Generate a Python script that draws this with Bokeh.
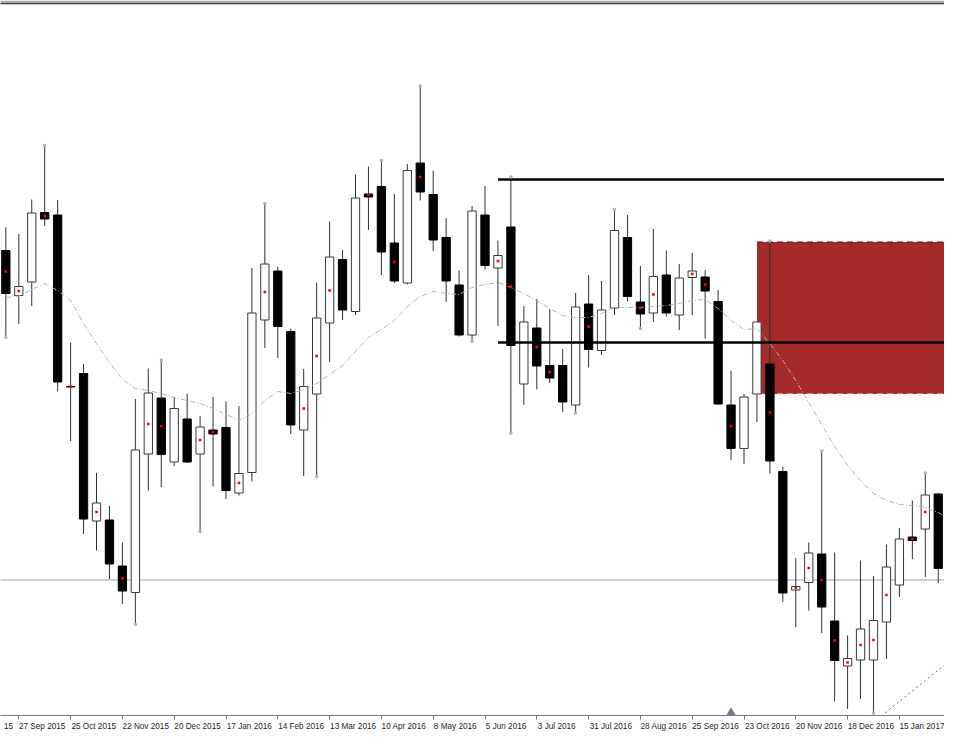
from bokeh.plotting import figure
from bokeh.models import FixedTicker, Range1d, ColumnDataSource
from bokeh.embed import file_html
from bokeh.resources import INLINE

# ---- data (EUR/USD weekly) ----
WEEK = list(range(-1, 74))  # week index, 0 = 27 Sep 2015
OPEN = [1.1287, 1.1197, 1.1224, 1.1363, 1.1358, 1.1015, 1.1041, 1.0746, 1.0748, 1.0656,
        1.0603, 1.0880, 1.0992, 1.0864, 1.0950, 1.0880, 1.0928, 1.0933, 1.0802, 1.0843,
        1.1148, 1.1246, 1.1125, 1.0928, 1.1000, 1.1142, 1.1269, 1.1165, 1.1400, 1.1415,
        1.1302, 1.1222, 1.1462, 1.1399, 1.1313, 1.1218, 1.1118, 1.1358, 1.1252, 1.1334,
        1.1020, 1.1132, 1.1057, 1.1057, 1.0978, 1.1180, 1.1087, 1.1172, 1.1313, 1.1184,
        1.1162, 1.1238, 1.1158, 1.1233, 1.1234, 1.1185, 1.0978, 1.0891, 1.1000, 1.1060,
        1.0845, 1.0608, 1.0623, 1.0680, 1.0546, 1.0456, 1.0468, 1.0468, 1.0544, 1.0618,
        1.0714, 1.0730, 1.0800, 1.0641, 1.0617]
HIGH = [1.1333, 1.1320, 1.1389, 1.1497, 1.1388, 1.1103, 1.1060, 1.0842, 1.0776, 1.0703,
        1.0990, 1.1051, 1.1068, 1.0994, 1.1000, 1.0956, 1.0994, 1.0985, 1.0976, 1.1252,
        1.1381, 1.1254, 1.1131, 1.1050, 1.1223, 1.1345, 1.1288, 1.1439, 1.1455, 1.1467,
        1.1400, 1.1460, 1.1616, 1.1447, 1.1352, 1.1247, 1.1376, 1.1416, 1.1307, 1.1434,
        1.1176, 1.1190, 1.1170, 1.1090, 1.1202, 1.1238, 1.1226, 1.1369, 1.1358, 1.1256,
        1.1330, 1.1287, 1.1260, 1.1282, 1.1248, 1.1208, 1.1047, 1.1000, 1.1144, 1.1306,
        1.0854, 1.0672, 1.0703, 1.0886, 1.0683, 1.0517, 1.0667, 1.0636, 1.0699, 1.0732,
        1.0787, 1.0842, 1.0802, 1.0692, 1.0637]
LOW = [1.1113, 1.1140, 1.1176, 1.1336, 1.1005, 1.0906, 1.0720, 1.0687, 1.0630, 1.0580,
       1.0539, 1.0807, 1.0814, 1.0856, 1.0862, 1.0725, 1.0815, 1.0790, 1.0797, 1.0825,
       1.1092, 1.1072, 1.0920, 1.0836, 1.0835, 1.1064, 1.1148, 1.1158, 1.1328, 1.1238,
       1.1222, 1.1219, 1.1387, 1.1286, 1.1184, 1.1115, 1.1105, 1.1249, 1.1136, 1.0922,
       1.0978, 1.1009, 1.1022, 1.0964, 1.0962, 1.1053, 1.1078, 1.1158, 1.1185, 1.1131,
       1.1144, 1.1155, 1.1128, 1.1158, 1.1111, 1.0978, 1.0868, 1.0860, 1.0944, 1.0841,
       1.0584, 1.0534, 1.0567, 1.0522, 1.0385, 1.0370, 1.0390, 1.0362, 1.0470, 1.0594,
       1.0670, 1.0634, 1.0622, 1.0537, 1.0547]
CLOSE = [1.1201, 1.1215, 1.1362, 1.1350, 1.1024, 1.1014, 1.0750, 1.0782, 1.0660, 1.0606,
         1.0888, 1.1002, 1.0879, 1.0971, 1.0864, 1.0934, 1.0920, 1.0807, 1.0841, 1.1162,
         1.1260, 1.1135, 1.0938, 1.1015, 1.1152, 1.1274, 1.1168, 1.1392, 1.1394, 1.1284,
         1.1226, 1.1447, 1.1404, 1.1308, 1.1226, 1.1118, 1.1366, 1.1257, 1.1277, 1.1097,
         1.1144, 1.1056, 1.1032, 1.0984, 1.1174, 1.1089, 1.1168, 1.1327, 1.1195, 1.1160,
         1.1235, 1.1162, 1.1232, 1.1246, 1.1206, 1.0980, 1.0891, 1.0994, 1.1144, 1.0866,
         1.0602, 1.0615, 1.0682, 1.0574, 1.0467, 1.0471, 1.0530, 1.0547, 1.0654, 1.0710,
         1.0707, 1.0798, 1.0651, 1.0623, 1.0573]
MA = [1.1193, 1.1196, 1.1209, 1.1221, 1.1207, 1.1187, 1.1141, 1.1101, 1.1063, 1.1029,
      1.1011, 1.1007, 1.1001, 1.0993, 1.0987, 1.0981, 1.0971, 1.0959, 1.0947, 1.0961,
      1.0987, 1.1005, 1.1001, 1.1009, 1.1021, 1.1039, 1.1057, 1.1085, 1.1113, 1.1129,
      1.1147, 1.1175, 1.1195, 1.1205, 1.1201, 1.1199, 1.1213, 1.1219, 1.1223, 1.1213,
      1.1201, 1.1187, 1.1171, 1.1157, 1.1153, 1.1153, 1.1161, 1.1173, 1.1173, 1.1173,
      1.1175, 1.1177, 1.1181, 1.1187, 1.1189, 1.1171, 1.1147, 1.1129, 1.1131, 1.1101,
      1.1067, 1.1027, 1.0983, 1.0939, 1.0895, 1.0857, 1.0827, 1.0801, 1.0787, 1.0779,
      1.0777, 1.0773, 1.0763, 1.0747, 1.0733]

DOT_IDX = [-1, 0, 2, 4, 6, 8, 10, 11, 14, 15, 17, 19, 22, 23, 24, 27, 29, 31, 37, 38,
           40, 41, 44, 48, 49, 52, 53, 55, 58, 60, 61, 62, 63, 64, 65, 66, 67, 69, 70, 72]
DOT_VAL = [1.1245, 1.1206, 1.1356, 1.1015, 1.0764, 1.0631, 1.0940, 1.0936, 1.0908, 1.0924,
           1.0822, 1.1204, 1.0971, 1.1076, 1.1207, 1.1398, 1.1264, 1.1434, 1.1266, 1.1215,
           1.1094, 1.1044, 1.1135, 1.1172, 1.1199, 1.1240, 1.1219, 1.0936, 1.0963, 1.0612,
           1.0652, 1.0628, 1.0507, 1.0463, 1.0498, 1.0508, 1.0598, 1.0710, 1.0764, 1.0632]

FRACTAL_UP_IDX = [2, 11, 19, 28, 31, 38, 46, 58, 62, 70]
FRACTAL_DN_IDX = [-1, 9, 14, 23, 35, 38, 43, 48, 66]

LEVELS = [1.1429, 1.1103]
LEVEL_START = 37
ZONE_START = 57
ZONE_TOP = 1.1304
ZONE_BOTTOM = 1.1000
SUPPORT = 1.0628
TREND_X = [66.9, 72.9]
TREND_Y = [1.0362, 1.0488]
SHIFT_MARK = 55

TICK_IDX = [-4, 0, 4, 8, 12, 16, 20, 24, 28, 32, 36, 40, 44, 48, 52, 56, 60, 64, 68, 72]
TICK_LABELS = ["30 Aug 2015", "27 Sep 2015", "25 Oct 2015", "22 Nov 2015", "20 Dec 2015",
               "17 Jan 2016", "14 Feb 2016", "13 Mar 2016", "10 Apr 2016", "8 May 2016",
               "5 Jun 2016", "3 Jul 2016", "31 Jul 2016", "28 Aug 2016", "25 Sep 2016",
               "23 Oct 2016", "20 Nov 2016", "18 Dec 2016", "15 Jan 2017", "12 Feb 2017"]

# ---- layout: 12.95 px per week, 0.0002 per px (same scale as the source chart) ----
FRAME_W, FRAME_H = 944, 715
PX_PER_WEEK = 12.95
PRICE_PER_PX = 0.0002
X0 = -18.3 / PX_PER_WEEK
X1 = X0 + FRAME_W / PX_PER_WEEK
Y1 = 1.1787
Y0 = Y1 - FRAME_H * PRICE_PER_PX

p = figure(frame_width=FRAME_W, frame_height=FRAME_H,
           x_range=Range1d(X0, X1), y_range=Range1d(Y0, Y1),
           output_backend="svg", toolbar_location=None, y_axis_location=None,
           min_border_left=0, min_border_right=0, min_border_top=0, min_border_bottom=0)
p.outline_line_color = None
p.xgrid.visible = False
p.ygrid.visible = False
p.background_fill_color = "white"
p.border_fill_color = "white"

# window top bar
p.quad(left=[X0 - 5], right=[X1 + 5], top=[Y1], bottom=[Y1 - 2 * PRICE_PER_PX],
       fill_color="#a7a7a7", line_color=None)
p.segment(x0=[X0 - 5], x1=[X1 + 5], y0=[Y1 - 3 * PRICE_PER_PX], y1=[Y1 - 3 * PRICE_PER_PX],
          line_color="#3a3a3a", line_width=1.5)

# zone (behind candles)
p.quad(left=[ZONE_START], right=[X1 + 10], top=[ZONE_TOP], bottom=[ZONE_BOTTOM],
       fill_color="#A52A2A", line_color=None)
p.segment(x0=[ZONE_START], x1=[X1 + 10], y0=[ZONE_TOP], y1=[ZONE_TOP],
          line_color="#202020", line_width=1, line_dash="6 4")
p.segment(x0=[ZONE_START], x1=[X1 + 10], y0=[ZONE_BOTTOM], y1=[ZONE_BOTTOM],
          line_color="#f4dcdc", line_width=1, line_dash="6 4")

# support line
p.segment(x0=[X0 - 5], x1=[X1 + 5], y0=[SUPPORT], y1=[SUPPORT], line_color="#98a2ac", line_width=1)

# candles
up = [c >= o for o, c in zip(OPEN, CLOSE)]
src = ColumnDataSource(dict(
    x=WEEK, high=HIGH, low=LOW,
    top=[max(o, c) for o, c in zip(OPEN, CLOSE)],
    bottom=[min(o, c) for o, c in zip(OPEN, CLOSE)],
    fill=["white" if u else "black" for u in up],
    line=["#383838" if u else "black" for u in up],
))
p.segment(x0="x", x1="x", y0="high", y1="low", source=src, line_color="#303030", line_width=1)
p.vbar(x="x", width=0.64, top="top", bottom="bottom", source=src,
       fill_color="fill", line_color="line", line_width=1)

# moving average
p.line(WEEK, MA, line_color="#b4b4b4", line_width=1, line_dash="5 2 1 2")

# horizontal levels
for lv in LEVELS:
    p.segment(x0=[LEVEL_START], x1=[X1 + 10], y0=[lv], y1=[lv], line_color="black", line_width=2.5)

# red midpoint dots
p.scatter(DOT_IDX, DOT_VAL, marker="square", size=2.6, fill_color="#ff0000", line_color=None)

# fractal marks
pos = {k: i for i, k in enumerate(WEEK)}
p.scatter(FRACTAL_UP_IDX, [HIGH[pos[k]] for k in FRACTAL_UP_IDX], marker="circle", size=3.5,
          fill_color="#b9b2aa", line_color=None)
p.scatter(FRACTAL_DN_IDX, [LOW[pos[k]] for k in FRACTAL_DN_IDX], marker="circle", size=3.5,
          fill_color="#b9b2aa", line_color=None)

# trend line
p.line(TREND_X, TREND_Y, line_color="#2f9a2f", line_width=1, line_dash="2 3")

# chart shift marker (sits on the axis line)
p.scatter([SHIFT_MARK], [Y0 + 3 * PRICE_PER_PX], marker="triangle", size=9,
          fill_color="#6f7c8a", line_color=None)

# x axis: labels start at their tick (major ticks = label centres, minor = tick marks)
FONT_PX = 8.2
def label_width(s):
    w = 0.0
    for ch in s:
        if ch == " ":
            w += 0.278
        elif ch.isdigit():
            w += 0.556
        elif ch in "MO":
            w += 0.8
        elif ch in "lt":
            w += 0.28
        elif ch == "r":
            w += 0.35
        else:
            w += 0.56
    return w * FONT_PX

centres, shown = [], []
for t, s in zip(TICK_IDX, TICK_LABELS):
    start = t + 0.5 / PX_PER_WEEK
    c = start + label_width(s) / 2 / PX_PER_WEEK
    if X0 <= c <= X1:
        centres.append(c)
        shown.append(s)
    elif c < X0 and start + label_width(s) / PX_PER_WEEK > X0:
        # only the tail of the label is visible at the left edge
        tail = s.split()[-1][-2:]
        end = start + label_width(s) / PX_PER_WEEK
        centres.append(end - label_width(tail) / 2 / PX_PER_WEEK)
        shown.append(tail)
    elif c > X1 and start < X1:
        head = s.split()[0]
        centres.append(start + label_width(head) / 2 / PX_PER_WEEK)
        shown.append(head)

ax = p.xaxis[0]
ax.ticker = FixedTicker(ticks=centres, minor_ticks=TICK_IDX)
ax.major_label_overrides = {c: s for c, s in zip(centres, shown)}
ax.major_tick_in = 0
ax.major_tick_out = 0
ax.minor_tick_in = 0
ax.minor_tick_out = 4
ax.major_label_standoff = 2
ax.axis_line_color = "#7a7a7a"
ax.minor_tick_line_color = "#7a7a7a"
ax.major_label_text_font = "Liberation Sans"
ax.major_label_text_font_size = f"{FONT_PX}px"
ax.major_label_text_color = "#1e1e1e"

open("out.html", "w").write(file_html(p, INLINE))
